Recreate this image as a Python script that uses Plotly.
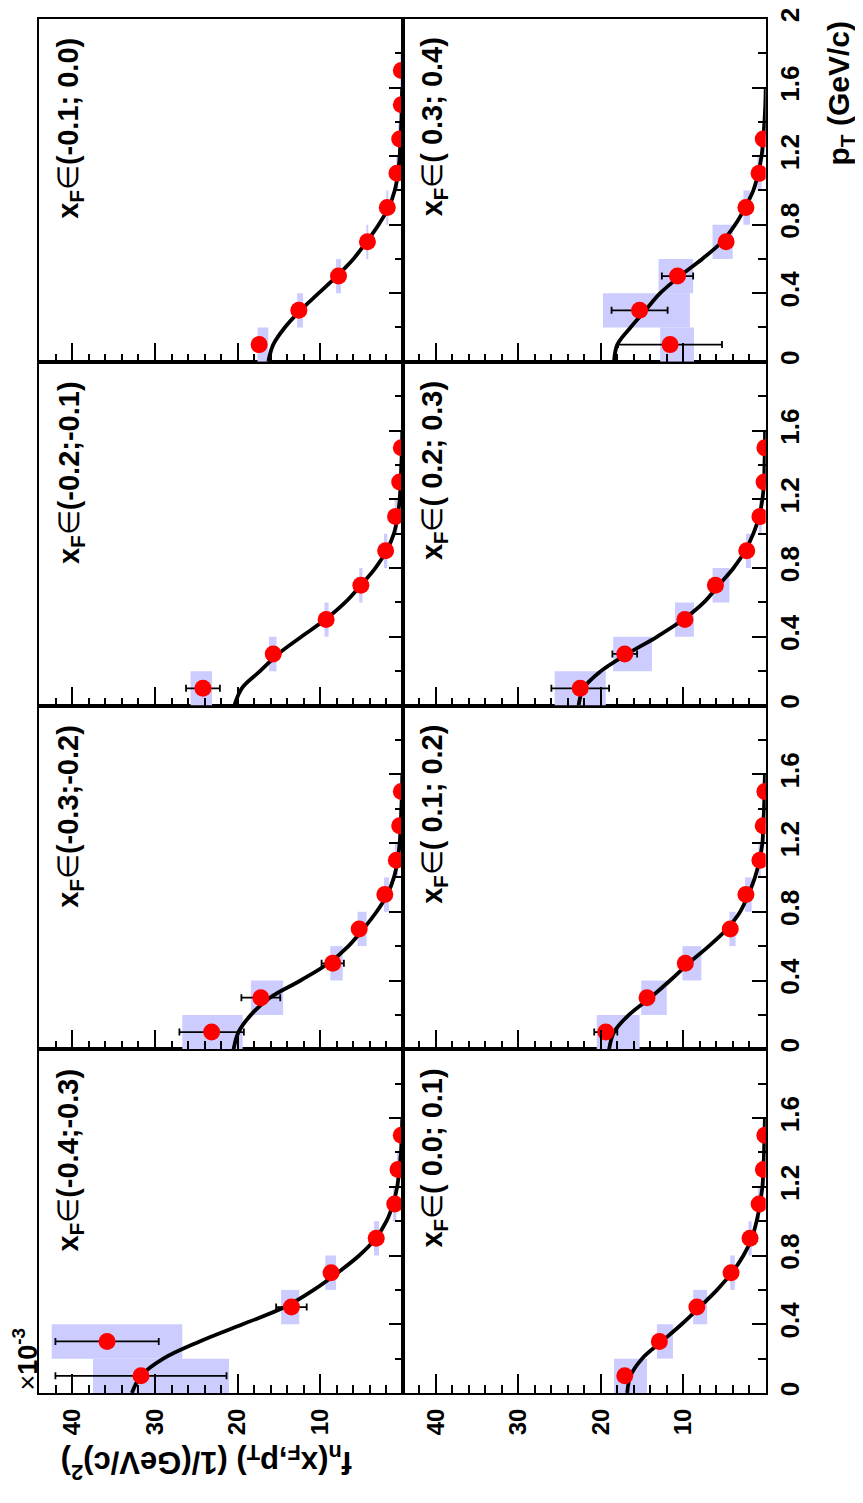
import plotly.graph_objects as go

# ---------------- data ----------------
BIN_LABELS = [
    "(-0.4;-0.3)", "(-0.3;-0.2)", "(-0.2;-0.1)", "(-0.1; 0.0)",
    "( 0.0; 0.1)", "( 0.1; 0.2)", "( 0.2; 0.3)", "( 0.3; 0.4)",
]

PT = [0.1, 0.3, 0.5, 0.7, 0.9, 1.1, 1.3, 1.5, 1.7]
FIT_PT = [0.0, 0.1, 0.2, 0.3, 0.4, 0.5, 0.6, 0.7, 0.8, 0.9, 1.0,
          1.1, 1.2, 1.3, 1.4, 1.5, 1.6]

# f_n values (x 10^-3)
F_B1 = [31.7, 35.8, 13.5, 8.7, 3.24, 1.0, 0.6, 0.2]
F_B2 = [23.15, 17.2, 8.5, 5.3, 2.2, 0.8, 0.4, 0.2]
F_B3 = [24.2, 15.7, 9.3, 5.1, 2.1, 0.9, 0.4, 0.2]
F_B4 = [17.4, 12.6, 7.8, 4.3, 1.9, 0.73, 0.4, 0.2, 0.2]
F_B5 = [17.1, 12.9, 8.35, 4.2, 1.9, 0.8, 0.28, 0.1]
F_B6 = [19.4, 14.4, 9.75, 4.3, 2.4, 0.7, 0.3, 0.1]
F_B7 = [22.5, 17.1, 9.8, 6.1, 2.3, 0.7, 0.2, 0.1]
F_B8 = [11.6, 15.3, 10.7, 4.8, 2.4, 0.8, 0.3]

# statistical errors
STAT_B1 = [10.35, 6.25, 1.85, 0.4, 0.25, 0.15, 0.1, 0.05]
STAT_B2 = [3.9, 2.35, 1.35, 0.3, 0.2, 0.1, 0.1, 0.05]
STAT_B3 = [2.05, 0.4, 0.3, 0.2, 0.15, 0.1, 0.05, 0.05]
STAT_B4 = [0.3, 0.2, 0.2, 0.15, 0.1, 0.05, 0.05, 0.05, 0.05]
STAT_B5 = [0.3, 0.2, 0.15, 0.1, 0.1, 0.05, 0.05, 0.05]
STAT_B6 = [1.4, 0.3, 0.2, 0.15, 0.1, 0.1, 0.05, 0.05]
STAT_B7 = [3.5, 1.5, 0.3, 0.2, 0.1, 0.1, 0.05, 0.05]
STAT_B8 = [6.3, 3.4, 1.9, 0.3, 0.2, 0.1, 0.05]

# systematic band (low / high edge)
SYS_LO_B1 = [21.05, 26.7, 12.55, 8.1, 2.9, 0.8, 0.45, 0.1]
SYS_HI_B1 = [37.5, 42.5, 14.75, 9.4, 3.5, 1.2, 0.75, 0.3]
SYS_LO_B2 = [19.4, 14.5, 7.3, 4.4, 1.7, 0.6, 0.3, 0.1]
SYS_HI_B2 = [26.7, 18.4, 8.8, 5.5, 2.3, 1.0, 0.5, 0.3]
SYS_LO_B3 = [23.1, 15.3, 9.0, 4.9, 1.9, 0.8, 0.3, 0.1]
SYS_HI_B3 = [25.7, 16.2, 9.5, 5.3, 2.3, 1.0, 0.5, 0.3]
SYS_LO_B4 = [16.3, 12.1, 7.5, 4.2, 1.8, 0.65, 0.35, 0.15, 0.15]
SYS_HI_B4 = [17.6, 12.8, 8.1, 4.4, 2.0, 0.8, 0.45, 0.25, 0.25]
SYS_LO_B5 = [14.4, 11.25, 7.1, 3.75, 1.7, 0.7, 0.2, 0.05]
SYS_HI_B5 = [18.4, 13.2, 8.8, 4.3, 2.1, 0.9, 0.35, 0.15]
SYS_LO_B6 = [15.3, 12.0, 7.8, 3.65, 1.7, 0.6, 0.2, 0.05]
SYS_HI_B6 = [20.5, 15.1, 10.1, 4.4, 2.5, 0.9, 0.4, 0.15]
SYS_LO_B7 = [19.4, 13.8, 8.7, 4.4, 1.8, 0.5, 0.15, 0.05]
SYS_HI_B7 = [25.6, 18.5, 11.0, 6.45, 2.4, 0.8, 0.3, 0.15]
SYS_LO_B8 = [8.7, 9.2, 8.8, 4.0, 1.9, 0.5, 0.2]
SYS_HI_B8 = [12.8, 19.75, 13.0, 6.45, 2.7, 1.0, 0.4]

# fit curve values at FIT_PT
FIT_B1 = [32.8, 31.7, 29.0, 24.6, 19.4, 14.3, 10.8, 7.9, 5.3, 3.3, 2.0, 1.2, 0.7, 0.45, 0.25, 0.15, 0.08]
FIT_B2 = [20.5, 19.9, 18.4, 16.1, 12.4, 9.0, 6.6, 4.8, 3.2, 1.9, 1.1, 0.65, 0.4, 0.28, 0.2, 0.12, 0.08]
FIT_B3 = [20.4, 19.5, 17.3, 15.1, 12.3, 9.4, 7.0, 5.1, 3.35, 2.0, 1.1, 0.65, 0.4, 0.28, 0.2, 0.12, 0.08]
FIT_B4 = [16.3, 15.7, 14.3, 12.4, 10.2, 8.0, 6.0, 4.4, 2.95, 1.74, 1.0, 0.6, 0.4, 0.3, 0.2, 0.15, 0.1]
FIT_B5 = [16.8, 16.4, 15.0, 12.6, 10.2, 8.0, 5.9, 4.1, 2.7, 1.7, 1.1, 0.7, 0.4, 0.28, 0.2, 0.15, 0.1]
FIT_B6 = [19.0, 18.4, 16.6, 14.0, 11.6, 9.35, 6.9, 4.7, 3.1, 2.1, 1.3, 0.75, 0.4, 0.3, 0.2, 0.15, 0.1]
FIT_B7 = [22.7, 22.1, 20.0, 16.8, 13.2, 10.0, 7.5, 5.7, 3.9, 2.5, 1.5, 0.8, 0.4, 0.2, 0.15, 0.1, 0.08]
FIT_B8 = [18.4, 18.0, 16.4, 14.6, 12.8, 10.4, 7.7, 5.3, 3.7, 2.5, 1.5, 0.9, 0.5, 0.3, 0.15, 0.05, 0.0]

F_ALL = [F_B1, F_B2, F_B3, F_B4, F_B5, F_B6, F_B7, F_B8]
STAT_ALL = [STAT_B1, STAT_B2, STAT_B3, STAT_B4, STAT_B5, STAT_B6, STAT_B7, STAT_B8]
SYS_LO_ALL = [SYS_LO_B1, SYS_LO_B2, SYS_LO_B3, SYS_LO_B4, SYS_LO_B5, SYS_LO_B6, SYS_LO_B7, SYS_LO_B8]
SYS_HI_ALL = [SYS_HI_B1, SYS_HI_B2, SYS_HI_B3, SYS_HI_B4, SYS_HI_B5, SYS_HI_B6, SYS_HI_B7, SYS_HI_B8]
FIT_ALL = [FIT_B1, FIT_B2, FIT_B3, FIT_B4, FIT_B5, FIT_B6, FIT_B7, FIT_B8]

F_TICKS = [10, 20, 30, 40]
PT_TICKS = [0, 0.4, 0.8, 1.2, 1.6]
PT_TICKS_TOP = [0, 0.4, 0.8, 1.2, 1.6, 2]

# ---------------- layout geometry (page pixels) ----------------
OFF = 8                      # default page margin of the html body
W, H = 863 - OFF, 1503 - OFF  # figure size that fits the window
COL_X = [(39.3, 403.0), (403.0, 765.7)]
ROW_BOTTOM = 1395.0
ROW_H = 347.0
FONT = "Liberation Sans"
BOX_COLOR = "rgb(204,204,255)"


def px_x(p):
    return min(max((p - OFF) / W, 0.0), 1.0)


def px_y(p):
    return min(max(1 - (p - OFF) / H, 0.0), 1.0)


fig = go.Figure()
layout = dict(
    width=W, height=H, margin=dict(l=0, r=0, t=0, b=0, pad=0),
    paper_bgcolor="white", plot_bgcolor="white", showlegend=False,
    font=dict(family=FONT, color="black"),
)
annotations = []

for i in range(8):
    col = i // 4
    k = i % 4  # row index from bottom
    n = i + 1
    xa = "x" if n == 1 else f"x{n}"
    ya = "y" if n == 1 else f"y{n}"
    xkey = "xaxis" if n == 1 else f"xaxis{n}"
    ykey = "yaxis" if n == 1 else f"yaxis{n}"

    y_bot = ROW_BOTTOM - ROW_H * k
    y_top = y_bot - ROW_H
    x0, x1 = COL_X[col]

    f = F_ALL[i]
    npts = len(f)
    pts = PT[:npts]
    lo = SYS_LO_ALL[i]
    hi = SYS_HI_ALL[i]

    fig.add_trace(go.Bar(
        y=pts, x=[h - l for h, l in zip(hi, lo)], base=lo, orientation="h",
        width=0.2, marker=dict(color=BOX_COLOR, line=dict(width=0)),
        xaxis=xa, yaxis=ya, hoverinfo="skip", showlegend=False,
    ))
    fig.add_trace(go.Scatter(
        x=FIT_ALL[i], y=FIT_PT, mode="lines",
        line=dict(color="black", width=3.8, shape="spline", smoothing=1.0),
        xaxis=xa, yaxis=ya, hoverinfo="skip", showlegend=False,
    ))
    fig.add_trace(go.Scatter(
        x=f, y=pts, mode="markers",
        marker=dict(color="red", size=17, line=dict(width=0)),
        error_x=dict(type="data", array=STAT_ALL[i], symmetric=True,
                     color="black", thickness=1.8, width=3.5),
        xaxis=xa, yaxis=ya, showlegend=False,
    ))

    layout[xkey] = dict(
        domain=[px_x(x0), px_x(x1)], anchor=ya, range=[44, 0],
        showline=True, mirror=True, linecolor="black", linewidth=2,
        showgrid=False, zeroline=False,
        ticks="inside", ticklen=19, tickwidth=1.8, tickcolor="black",
        tickmode="array", tickvals=F_TICKS,
        minor=dict(ticks="inside", ticklen=8, tickwidth=1.8, tickcolor="black",
                   tickmode="linear", tick0=0, dtick=2, showgrid=False),
        showticklabels=(k == 0), tickangle=-90,
        tickfont=dict(family=FONT, size=24, weight="bold", color="black"),
        ticklabelstandoff=4, ticklabeloverflow="allow",
        fixedrange=True,
    )
    layout[ykey] = dict(
        domain=[px_y(y_bot), px_y(y_top)], anchor=xa, range=[0, 2], side="right",
        showline=True, mirror=True, linecolor="black", linewidth=2,
        showgrid=False, zeroline=False,
        ticks="inside", ticklen=14, tickwidth=1.8, tickcolor="black",
        tickmode="array", tickvals=(PT_TICKS_TOP if k == 3 else PT_TICKS),
        minor=dict(ticks="inside", ticklen=8, tickwidth=1.8, tickcolor="black",
                   tickmode="linear", tick0=0, dtick=0.2, showgrid=False),
        showticklabels=(col == 1), tickangle=-90,
        tickfont=dict(family=FONT, size=26, weight="bold", color="black"),
        ticklabelstandoff=0, ticklabeloverflow="allow",
        fixedrange=True,
    )

    annotations.append(dict(
        xref="paper", yref="paper", x=px_x(x0 + 31), y=px_y(y_top + 18),
        xanchor="center", yanchor="top", showarrow=False, textangle=-90,
        text="<b>x<sub>F</sub></b>\u2208<b>" + BIN_LABELS[i] + "</b>",
        font=dict(family=FONT, size=29, color="black"),
    ))

# axis titles and multiplier
annotations.append(dict(
    xref="paper", yref="paper", x=px_x(840), y=px_y(7),
    xanchor="center", yanchor="top", showarrow=False, textangle=-90,
    text="<b>p<sub>T</sub> (GeV/c)</b>",
    font=dict(family=FONT, size=30, color="black"),
))
annotations.append(dict(
    xref="paper", yref="paper", x=px_x(207), y=px_y(1465),
    xanchor="center", yanchor="middle", showarrow=False, textangle=180,
    text="<b>f<sub>n</sub>(x<sub>F</sub>,p<sub>T</sub>) (1/(GeV/c)<sup>2</sup>)</b>",
    font=dict(family=FONT, size=31, color="black"),
))
annotations.append(dict(
    xref="paper", yref="paper", x=px_x(25), y=px_y(1395),
    xanchor="center", yanchor="bottom", showarrow=False, textangle=-90,
    text="\u00d7<b>10</b><sup><b>-3</b></sup>",
    font=dict(family=FONT, size=27, color="black"),
))

layout["annotations"] = annotations
fig.update_layout(**layout)
fig.write_html("out.html")
